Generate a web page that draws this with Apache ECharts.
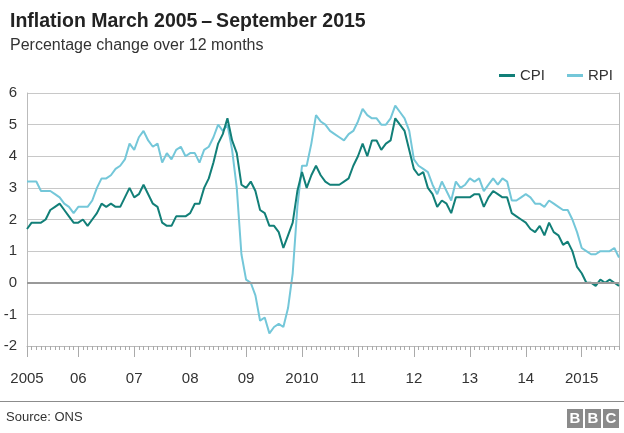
<!DOCTYPE html>
<html>
<head>
<meta charset="utf-8">
<script src="https://cdn.jsdelivr.net/npm/echarts@6/dist/echarts.min.js"></script>
<style>
  html, body { margin: 0; padding: 0; background: #fff; }
  #chart { width: 624px; height: 433px; }
</style>
</head>
<body>
<div id="chart"></div>
<script>
const cpiColor = '#127f78';
const rpiColor = '#74c7d9';

// monthly series, Feb 2005 .. Sep 2015
const startYear = 2005;
const startMonth = 2;

const cpi = [
  1.7, 1.9, 1.9, 1.9, 2.0, 2.3, 2.4, 2.5, 2.3, 2.1, 1.9,
  1.9, 2.0, 1.8, 2.0, 2.2, 2.5, 2.4, 2.5, 2.4, 2.4, 2.7, 3.0,
  2.7, 2.8, 3.1, 2.8, 2.5, 2.4, 1.9, 1.8, 1.8, 2.1, 2.1, 2.1,
  2.2, 2.5, 2.5, 3.0, 3.3, 3.8, 4.4, 4.7, 5.2, 4.5, 4.1, 3.1,
  3.0, 3.2, 2.9, 2.3, 2.2, 1.8, 1.8, 1.6, 1.1, 1.5, 1.9, 2.9,
  3.5, 3.0, 3.4, 3.7, 3.4, 3.2, 3.1, 3.1, 3.1, 3.2, 3.3, 3.7,
  4.0, 4.4, 4.0, 4.5, 4.5, 4.2, 4.4, 4.5, 5.2, 5.0, 4.8, 4.2,
  3.6, 3.4, 3.5, 3.0, 2.8, 2.4, 2.6, 2.5, 2.2, 2.7, 2.7, 2.7,
  2.7, 2.8, 2.8, 2.4, 2.7, 2.9, 2.8, 2.7, 2.7, 2.2, 2.1, 2.0,
  1.9, 1.7, 1.6, 1.8, 1.5, 1.9, 1.6, 1.5, 1.2, 1.3, 1.0, 0.5,
  0.3, 0.0, 0.0, -0.1, 0.1, 0.0, 0.1, 0.0, -0.1
];

const rpi = [
  3.2, 3.2, 3.2, 2.9, 2.9, 2.9, 2.8, 2.7, 2.5, 2.4, 2.2,
  2.4, 2.4, 2.4, 2.6, 3.0, 3.3, 3.3, 3.4, 3.6, 3.7, 3.9, 4.4,
  4.2, 4.6, 4.8, 4.5, 4.3, 4.4, 3.8, 4.1, 3.9, 4.2, 4.3, 4.0,
  4.1, 4.1, 3.8, 4.2, 4.3, 4.6, 5.0, 4.8, 5.0, 4.2, 3.0, 0.9,
  0.1, 0.0, -0.4, -1.2, -1.1, -1.6, -1.4, -1.3, -1.4, -0.8, 0.3, 2.4,
  3.7, 3.7, 4.4, 5.3, 5.1, 5.0, 4.8, 4.7, 4.6, 4.5, 4.7, 4.8,
  5.1, 5.5, 5.3, 5.2, 5.2, 5.0, 5.0, 5.2, 5.6, 5.4, 5.2, 4.8,
  3.9, 3.7, 3.6, 3.5, 3.1, 2.8, 3.2, 2.9, 2.6, 3.2, 3.0, 3.1,
  3.3, 3.2, 3.3, 2.9, 3.1, 3.3, 3.1, 3.3, 3.2, 2.6, 2.6, 2.7,
  2.8, 2.7, 2.5, 2.5, 2.4, 2.6, 2.5, 2.4, 2.3, 2.3, 2.0, 1.6,
  1.1, 1.0, 0.9, 0.9, 1.0, 1.0, 1.0, 1.1, 0.8
];

const yearLabels = ['2005', '06', '07', '08', '09', '2010', '11', '12', '13', '14', '2015'];

// month categories and the year tick positions (first point + every January)
let months = [];
let majorIdx = [];
for (let i = 0; i < cpi.length; i++) {
  const m = startMonth - 1 + i;
  const mm = m % 12 + 1;
  months.push((startYear + Math.floor(m / 12)) + '-' + (mm < 10 ? '0' + mm : mm));
  if (i === 0 || mm === 1) majorIdx.push(i);
}
let labelAt = {};
majorIdx.forEach(function (idx, k) { labelAt[idx] = yearLabels[k]; });

function isMajor(index) {
  return majorIdx.indexOf(index) >= 0;
}

const font = 'Liberation Sans, Arial, Helvetica, sans-serif';

var myChart = echarts.init(document.getElementById('chart'));

var option = {
  animation: false,
  textStyle: { fontFamily: font },
  title: [
    {
      text: 'Inflation March 2005\u2009\u2013\u2009September 2015',
      left: 5,
      top: 7,
      textStyle: { fontSize: 19.5, fontWeight: 'bold', color: '#222', fontFamily: font }
    },
    {
      text: 'Percentage change over 12 months',
      left: 5,
      top: 33,
      textStyle: { fontSize: 16, fontWeight: 'normal', color: '#333', fontFamily: font }
    }
  ],
  legend: {
    data: ['CPI', 'RPI'],
    right: 6,
    top: 63,
    icon: 'rect',
    itemWidth: 16,
    itemHeight: 3,
    itemGap: 22,
    textStyle: { fontSize: 15, color: '#333', fontFamily: font }
  },
  grid: {
    left: 27,
    right: 5,
    top: 93,
    bottom: 87
  },
  xAxis: [
    {
      type: 'category',
      data: months,
      boundaryGap: false,
      axisLine: { show: true, onZero: false, lineStyle: { color: '#bbb' } },
      axisTick: { show: true, interval: 0, length: 4, lineStyle: { color: '#aaa' } },
      axisLabel: { show: false },
      splitLine: { show: false }
    },
    {
      type: 'category',
      data: months,
      position: 'bottom',
      boundaryGap: false,
      axisLine: { show: false, onZero: false },
      axisTick: { show: true, interval: isMajor, length: 11, lineStyle: { color: '#aaa' } },
      axisLabel: {
        show: true,
        interval: isMajor,
        margin: 25,
        fontSize: 15,
        color: '#333',
        fontFamily: font,
        formatter: function (value, idx) { return labelAt[idx] || ''; }
      },
      splitLine: { show: false }
    }
  ],
  yAxis: [
    {
      type: 'value',
      min: -2,
      max: 6,
      interval: 1,
      axisLine: { show: true, lineStyle: { color: '#bbb' } },
      axisTick: { show: false },
      axisLabel: { fontSize: 15, color: '#333', margin: 10, fontFamily: font },
      splitLine: { lineStyle: { color: '#c8c8c8' } }
    },
    {
      type: 'value',
      position: 'right',
      min: -2,
      max: 6,
      interval: 1,
      axisLine: { show: true, lineStyle: { color: '#bbb' } },
      axisTick: { show: false },
      axisLabel: { show: false },
      splitLine: { show: false }
    }
  ],
  series: [
    {
      name: 'RPI',
      type: 'line',
      data: rpi,
      showSymbol: false,
      color: rpiColor,
      lineStyle: { width: 2, color: rpiColor },
      markLine: {
        silent: true,
        symbol: 'none',
        label: { show: false },
        lineStyle: { color: '#999', width: 2, type: 'solid' },
        data: [{ yAxis: 0 }]
      }
    },
    {
      name: 'CPI',
      type: 'line',
      data: cpi,
      showSymbol: false,
      color: cpiColor,
      lineStyle: { width: 2, color: cpiColor }
    }
  ],
  graphic: [
    {
      type: 'line',
      shape: { x1: 0, y1: 401.5, x2: 624, y2: 401.5 },
      style: { stroke: '#8c8c8c', lineWidth: 1 }
    },
    {
      type: 'text',
      left: 6,
      top: 411,
      style: { text: 'Source: ONS', fontSize: 13, fill: '#333', fontFamily: font }
    },
    { type: 'rect', shape: { x: 567, y: 409, width: 16, height: 19 }, style: { fill: '#8a8a8a' } },
    { type: 'rect', shape: { x: 585, y: 409, width: 16, height: 19 }, style: { fill: '#8a8a8a' } },
    { type: 'rect', shape: { x: 603, y: 409, width: 16, height: 19 }, style: { fill: '#8a8a8a' } },
    { type: 'text', x: 575, y: 419, style: { text: 'B', fill: '#fff', fontSize: 15, fontWeight: 'bold', fontFamily: font, align: 'center', verticalAlign: 'middle' } },
    { type: 'text', x: 593, y: 419, style: { text: 'B', fill: '#fff', fontSize: 15, fontWeight: 'bold', fontFamily: font, align: 'center', verticalAlign: 'middle' } },
    { type: 'text', x: 611, y: 419, style: { text: 'C', fill: '#fff', fontSize: 15, fontWeight: 'bold', fontFamily: font, align: 'center', verticalAlign: 'middle' } }
  ]
};

myChart.setOption(option);
</script>
</body>
</html>
